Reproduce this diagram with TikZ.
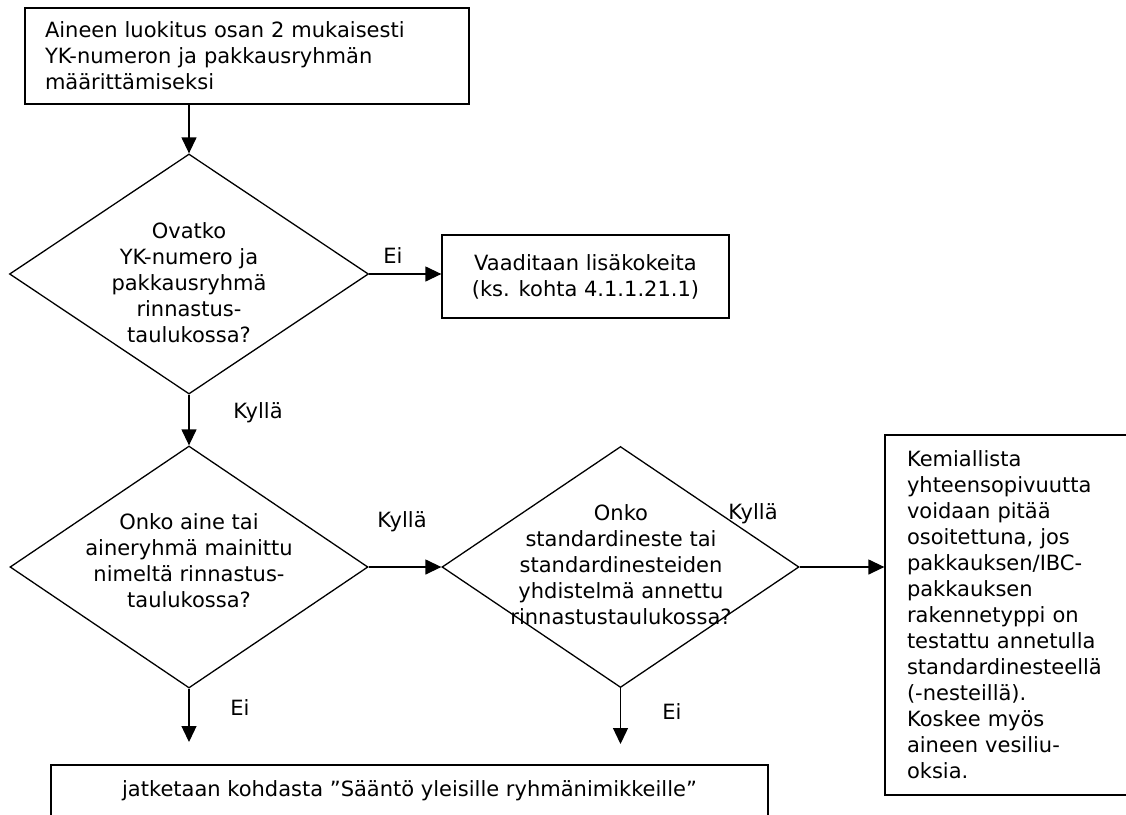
\documentclass[tikz,border=0pt]{standalone}
\usepackage{fontspec}
\setmainfont{DejaVu Sans}
\usetikzlibrary{shapes.geometric,arrows.meta}

\tikzset{
	box/.style={draw, line width=1.3pt, inner sep=0pt},
	decision/.style={diamond, draw, line width=1.3pt, inner sep=0pt},
	dtext/.style={align=center},
	arr/.style={line width=1.3pt, -{Triangle[length=16pt,width=15pt]}},
	lbl/.style={inner sep=0pt},
}

\begin{document}
\begin{tikzpicture}[x=1pt, y=-1pt, font=\fontsize{21}{26}\selectfont]
		\useasboundingbox (0,0) rectangle (1126,814);

		\node (start)[box, minimum width=444, minimum height=96, text width=404, align=left]at (247,56)
			{Aineen luokitus osan 2 mukaisesti\\YK-numeron ja pakkausryhmän\\määrittämiseksi};
		\node (d1)[decision, minimum width=359, minimum height=240]at (189,274)  {};
		\node (d1t)[dtext]at (189,283)  {Ovatko\\YK-numero ja\\pakkausryhmä\\rinnastus-\\taulukossa?};
		\node (more)[box, minimum width=287, minimum height=83, align=center]at (585.5,276.5)
			{Vaaditaan lisäkokeita\\(ks. kohta 4.1.1.21.1)};
		\node (d2)[decision, minimum width=358, minimum height=242]at (189,567)  {};
		\node (d2t)[dtext]at (189,561)  {Onko aine tai\\aineryhmä mainittu\\nimeltä rinnastus-\\taulukossa?};
		\node (d3)[decision, minimum width=357, minimum height=241]at (620.5,567)  {};
		\node (d3t)[dtext]at (621,565)  {Onko\\standardineste tai\\standardinesteiden\\yhdistelmä annettu\\rinnastustaulukossa?};
		\node (compat)[box, minimum width=250, minimum height=360, text width=206, align=left]at (1010,615)
			{Kemiallista\\yhteensopivuutta\\voidaan pitää\\osoitettuna, jos\\pakkauksen/IBC-\\pakkauksen\\rakennetyppi on\\testattu annetulla\\standardinesteellä\\(-nesteillä).\\Koskee myös\\aineen vesiliu-\\oksia.};
		\node (cont)[box, minimum width=717, minimum height=52]at (409.5,791)
			{jatketaan kohdasta ”Sääntö yleisille ryhmänimikkeille”};

		\coordinate (e1) at (189,742);
		\coordinate (e2) at (620.5,744);

		\node (no1)[lbl]at (393,256)  {Ei};
		\node (yes1)[lbl]at (258,413)  {Kyllä};
		\node (yes2)[lbl]at (402,522)  {Kyllä};
		\node (yes3)[lbl]at (753,514)  {Kyllä};
		\node (no2)[lbl]at (240,708)  {Ei};
		\node (no3)[lbl]at (672,712)  {Ei};

		\draw [arr](d1 |- start.south)--(d1.north);
		\draw [arr](d1.east)--(d1.east -| more.west);
		\draw [arr](d1.south)--(d2.north);
		\draw [arr](d2.east)--(d3.west);
		\draw [arr](d3.east)--(d3.east -| compat.west);
		\draw [arr](d2.south)--(e1);
		\draw [arr](d3.south)--(e2);
	\end{tikzpicture}
\end{document}
